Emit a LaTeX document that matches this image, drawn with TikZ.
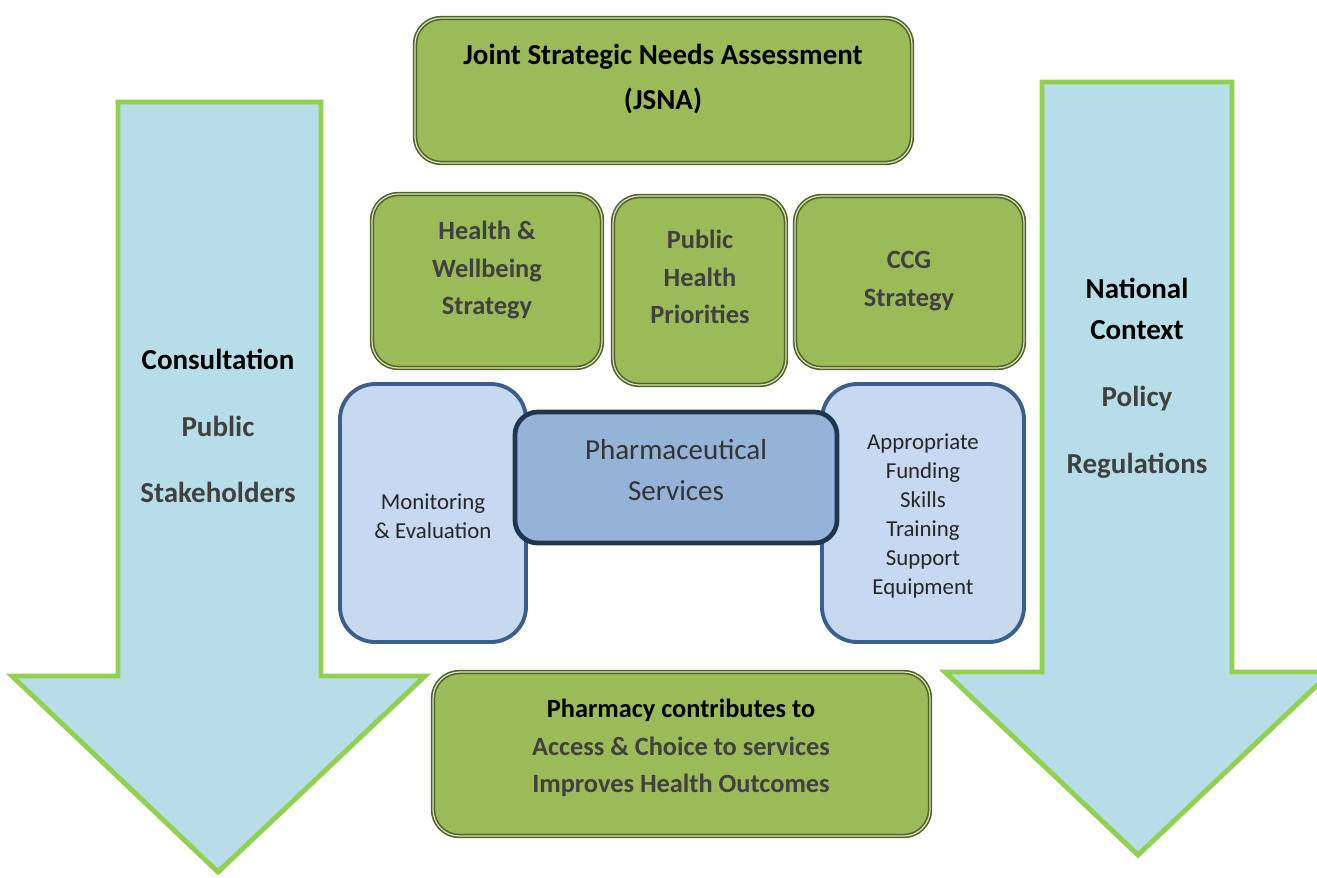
\documentclass[tikz,border=0pt]{standalone}
\usepackage{fontspec}
\setmainfont{Carlito}
\usetikzlibrary{fit}

\definecolor{boxgreen}{HTML}{9BBB59}
\definecolor{boxgreenline}{HTML}{4F6228}
\definecolor{boxgreenlight}{HTML}{D8E4BC}
\definecolor{paleblue}{HTML}{C6D9F1}
\definecolor{paleblueline}{HTML}{3A5F8B}
\definecolor{midblue}{HTML}{95B3D7}
\definecolor{navyline}{HTML}{1F3650}
\definecolor{arrowfill}{HTML}{B7DEE8}
\definecolor{arrowline}{HTML}{92D050}
\definecolor{textgrey}{HTML}{404040}

\tikzset{
  greenbox/.style={draw=boxgreenline, double=boxgreenlight, double distance=0.7pt, line width=0.9pt,
    fill=boxgreen, rounded corners=15pt, inner sep=0pt},
  bluebox/.style={draw=paleblueline, line width=2.2pt, fill=paleblue, rounded corners=20pt, inner sep=0pt},
  pharmbox/.style={draw=navyline, line width=2.7pt, fill=midblue, rounded corners=13pt, inner sep=0pt},
  bigarrow/.style={draw=arrowline, line width=2.8pt, fill=arrowfill, line join=miter},
  boldtext/.style={align=center, inner sep=0pt, text=textgrey, font=\bfseries\fontsize{15}{21.3}\selectfont},
  plaintext/.style={align=center, inner sep=0pt, text=black!85, font=\fontsize{13}{16.4}\selectfont},
  arrowtext/.style={align=center, inner sep=0pt, text=textgrey, font=\bfseries\fontsize{16.5}{23.2}\selectfont}
}

\begin{document}
\begin{tikzpicture}[x=0.02cm, y=-0.02cm]
		\useasboundingbox (0,0) rectangle (1317,877);
		
		% side arrows
		\draw[bigarrow] (118,102) -- (321,102) -- (321,676) -- (425,676) -- (218,872) -- (12,676) -- (118,676) -- cycle;
		\draw[bigarrow] (1042,82) -- (1232,82) -- (1232,672) -- (1331,672) -- (1138,855) -- (945,672) -- (1042,672) -- cycle;
		
		\node[arrowtext, font=\bfseries\fontsize{16.5}{38}\selectfont] (consult) at (218,426)
		{\textcolor{black}{Consultation}\\Public\\Stakeholders};
		\node[arrowtext] (national) at (1137,378)
		{\textcolor{black}{National}\\\textcolor{black}{Context}\\[15pt]Policy\\[15pt]Regulations};
		
		% green boxes
		\node[greenbox, fit={(415,18) (912,163)}] (jsna) {};
		\node[boldtext, text=black, font=\bfseries\fontsize{16.5}{25.5}\selectfont] (jsnatext) at (663,79)
		{Joint Strategic Needs Assessment\\(JSNA)};
		
		\node[greenbox, fit={(372,194) (602,368)}] (hwb) {};
		\node[boldtext] (hwbtext) at (487,270) {Health \&\\Wellbeing\\Strategy};
		
		\node[greenbox, fit={(613,196) (786,385)}] (php) {};
		\node[boldtext] (phptext) at (700,277) {Public\\Health\\Priorities};
		
		\node[greenbox, fit={(795,196) (1024,368)}] (ccg) {};
		\node[boldtext] (ccgtext) at (909,281) {CCG\\Strategy};
		
		\node[greenbox, fit={(433,672) (930,836)}] (outcome) {};
		\node[boldtext] (outcometext) at (681,748)
		{\textcolor{black}{Pharmacy contributes to}\\Access \& Choice to services\\Improves Health Outcomes};
		
		% blue boxes
		\node[bluebox, fit={(340,384) (526,642)}] (monitor) {};
		\node[plaintext] (monitortext) at (433,516) {Monitoring\\\& Evaluation};
		
		\node[bluebox, fit={(822,384) (1024,642)}] (needs) {};
		\node[plaintext] (needstext) at (923,516)
		{Appropriate\\Funding\\Skills\\Training\\Support\\Equipment};
		
		\node[pharmbox, fit={(515,412) (837,543)}] (pharm) {};
		\node[plaintext, text=black!80, font=\fontsize{16.5}{23.2}\selectfont] (pharmtext) at (676,470)
		{Pharmaceutical\\Services};
		\end{tikzpicture}
\end{document}
